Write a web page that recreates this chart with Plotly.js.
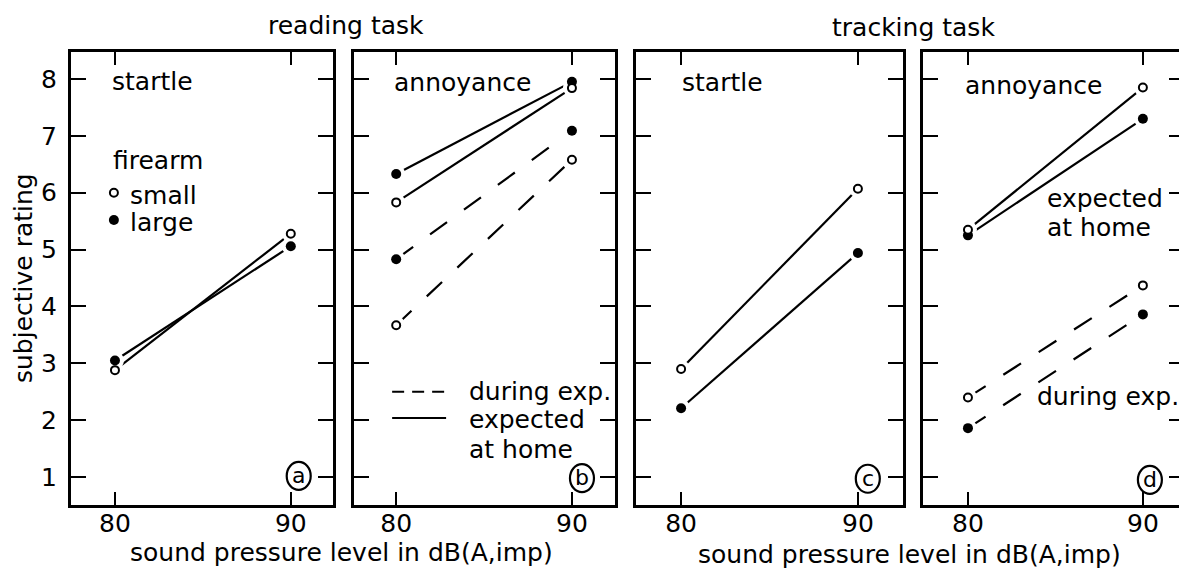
<!DOCTYPE html>
<html><head><meta charset="utf-8">
<script src="https://cdn.plot.ly/plotly-3.0.1.min.js"></script>
<style>html,body{margin:0;padding:0;overflow:hidden;background:#fff}</style>
</head><body>
<div id="chart" style="width:1184px;height:568px"></div>
<script>
// ---- data ----
const levels = [80, 90];
const levelTickText = ['80', '90'];
const ratingTicks = [1, 2, 3, 4, 5, 6, 7, 8];
const ratingTickText = ['1', '2', '3', '4', '5', '6', '7', '8'];
// reading task, startle
const readStartleSmall = [2.88, 5.28];
const readStartleLarge = [3.05, 5.06];
// reading task, annoyance (expected at home = solid, during exp. = dashed)
const readAnnHomeSmall = [5.83, 7.84];
const readAnnHomeLarge = [6.33, 7.95];
const readAnnExpSmall = [3.67, 6.58];
const readAnnExpLarge = [4.83, 7.09];
// tracking task, startle
const trackStartleSmall = [2.90, 6.07];
const trackStartleLarge = [2.21, 4.94];
// tracking task, annoyance
const trackAnnHomeSmall = [5.35, 7.85];
const trackAnnHomeLarge = [5.25, 7.30];
const trackAnnExpSmall = [2.40, 4.37];
const trackAnnExpLarge = [1.86, 3.86];

const FONT = 'DejaVu Sans';
const INK = '#000';

const panels = [
  {xa: 'x', ya: 'y', series: [
    {y: readStartleLarge, kind: 'large', dash: false},
    {y: readStartleSmall, kind: 'small', dash: false}]},
  {xa: 'x2', ya: 'y2', series: [
    {y: readAnnHomeLarge, kind: 'large', dash: false},
    {y: readAnnHomeSmall, kind: 'small', dash: false},
    {y: readAnnExpLarge, kind: 'large', dash: true},
    {y: readAnnExpSmall, kind: 'small', dash: true}]},
  {xa: 'x3', ya: 'y3', series: [
    {y: trackStartleLarge, kind: 'large', dash: false},
    {y: trackStartleSmall, kind: 'small', dash: false}]},
  {xa: 'x4', ya: 'y4', series: [
    {y: trackAnnHomeLarge, kind: 'large', dash: false},
    {y: trackAnnHomeSmall, kind: 'small', dash: false},
    {y: trackAnnExpLarge, kind: 'large', dash: true},
    {y: trackAnnExpSmall, kind: 'small', dash: true}]}
];

const traces = [];
panels.forEach(p => {
  p.series.forEach(s => traces.push({
    type: 'scatter', mode: 'lines', x: levels, y: s.y, xaxis: p.xa, yaxis: p.ya,
    line: {color: INK, width: 2.2, dash: s.dash ? '21px,21px' : 'solid'},
    hoverinfo: 'skip', showlegend: false
  }));
  p.series.forEach(s => traces.push({
    type: 'scatter', mode: 'markers', x: levels, y: s.y, xaxis: p.xa, yaxis: p.ya,
    marker: {color: '#fff', size: 18, line: {width: 0}},
    hoverinfo: 'skip', showlegend: false
  }));
  ['large', 'small'].forEach(k => p.series.filter(s => s.kind === k).forEach(s => traces.push({
    type: 'scatter', mode: 'markers', x: levels, y: s.y, xaxis: p.xa, yaxis: p.ya,
    marker: k === 'large'
      ? {color: INK, size: 10, line: {width: 0}}
      : {color: '#fff', size: 8, line: {color: INK, width: 2}},
    hoverinfo: 'skip', showlegend: false
  })));
});

const W = 1184;
const px = v => v / W;
const tickFont = {family: FONT, size: 25, color: INK};
function xAxis(d0, d1, range, anchor) {
  return {domain: [px(d0), px(d1)], range: range, anchor: anchor,
    tickmode: 'array', tickvals: levels, ticktext: levelTickText,
    ticks: 'inside', ticklen: 13, tickwidth: 2, tickcolor: INK,
    showline: true, linewidth: 3, linecolor: INK, mirror: 'ticks',
    showgrid: false, zeroline: false, tickfont: tickFont, ticklabelstandoff: -6};
}
function yAxis(anchor, labels) {
  return {domain: [0, 1], range: [0.508, 8.475], anchor: anchor,
    tickmode: 'array', tickvals: ratingTicks, ticktext: ratingTickText,
    ticks: 'inside', ticklen: 15, tickwidth: 2, tickcolor: INK,
    showline: true, linewidth: 3, linecolor: INK, mirror: 'ticks',
    showgrid: false, zeroline: false, showticklabels: labels,
    tickfont: tickFont, ticklabelstandoff: 6};
}

const tf = (size) => ({family: FONT, size: size, color: INK});
function note(text, xref, yref, x, y, xanchor, size) {
  return {text: text, xref: xref, yref: yref, x: x, y: y,
    xanchor: xanchor || 'left', yanchor: 'middle', showarrow: false,
    font: tf(size || 25)};
}
const annotations = [
  note('reading task', 'paper', 'paper', px(346), 1.058, 'center'),
  note('tracking task', 'paper', 'paper', px(913), 1.054, 'center'),
  note('sound pressure level in dB(A,imp)', 'paper', 'paper', px(341), -0.105, 'center'),
  note('sound pressure level in dB(A,imp)', 'paper', 'paper', px(910), -0.109, 'center'),
  Object.assign(note('subjective rating', 'paper', 'paper', px(23), 0.501, 'center'), {textangle: -90}),
  note('startle', 'x', 'y', 79.72, 7.95),
  note('firearm', 'x', 'y', 79.77, 6.56),
  note('small', 'x', 'y', 80.74, 5.96),
  note('large', 'x', 'y', 80.74, 5.48),
  note('annoyance', 'x2', 'y2', 79.77, 7.93),
  note('during exp.', 'x2', 'y2', 84.03, 2.51),
  note('expected', 'x2', 'y2', 84.03, 2.01),
  note('at home', 'x2', 'y2', 84.03, 1.49),
  note('startle', 'x3', 'y3', 79.94, 7.93),
  note('annoyance', 'x4', 'y4', 79.71, 7.88),
  note('expected', 'x4', 'y4', 84.4, 5.89),
  note('at home', 'x4', 'y4', 84.4, 5.38),
  note('during exp.', 'x4', 'y4', 83.85, 2.42),
  note('a', 'x', 'y', 90.45, 1.03, 'center', 22),
  note('b', 'x2', 'y2', 90.57, 0.99, 'center', 22),
  note('c', 'x3', 'y3', 90.56, 0.98, 'center', 22),
  note('d', 'x4', 'y4', 90.4, 0.96, 'center', 22)
];

function ring(xref, yref, x, y, rx, ry, filled, w) {
  return {type: 'circle', xref: xref, yref: yref, xsizemode: 'pixel', ysizemode: 'pixel',
    xanchor: x, yanchor: y, x0: -rx, x1: rx, y0: -ry, y1: ry,
    line: {color: INK, width: w}, fillcolor: filled ? INK : 'rgba(0,0,0,0)'};
}
const shapes = [
  ring('x', 'y', 90.45, 1.02, 12, 14, false, 2.2),
  ring('x2', 'y2', 90.57, 0.98, 12, 14, false, 2.2),
  ring('x3', 'y3', 90.56, 0.97, 12, 14, false, 2.2),
  ring('x4', 'y4', 90.4, 0.95, 12, 14, false, 2.2),
  ring('x', 'y', 79.94, 6.0, 4, 4, false, 2),
  ring('x', 'y', 79.94, 5.52, 5, 5, true, 0),
  {type: 'line', xref: 'x2', yref: 'y2', x0: 79.77, x1: 82.84, y0: 2.5, y1: 2.5,
    line: {color: INK, width: 2, dash: '12px,8px'}},
  {type: 'line', xref: 'x2', yref: 'y2', x0: 79.77, x1: 82.84, y0: 2.04, y1: 2.04,
    line: {color: INK, width: 2}}
];

const layout = {
  width: W, height: 568,
  margin: {l: 0, r: 0, t: 52, b: 63, pad: 0},
  paper_bgcolor: '#fff', plot_bgcolor: '#fff',
  font: tf(25), showlegend: false,
  xaxis: xAxis(71, 333, [77.5, 92.4], 'y'),
  xaxis2: xAxis(354, 615, [77.6, 92.45], 'y2'),
  xaxis3: xAxis(636, 903, [77.45, 92.55], 'y3'),
  xaxis4: xAxis(923, 1184, [77.43, 92.35], 'y4'),
  yaxis: yAxis('x', true),
  yaxis2: yAxis('x2', false),
  yaxis3: yAxis('x3', false),
  yaxis4: yAxis('x4', false),
  annotations: annotations,
  shapes: shapes
};
Plotly.newPlot('chart', traces, layout, {staticPlot: true, displayModeBar: false});
</script>
</body></html>
